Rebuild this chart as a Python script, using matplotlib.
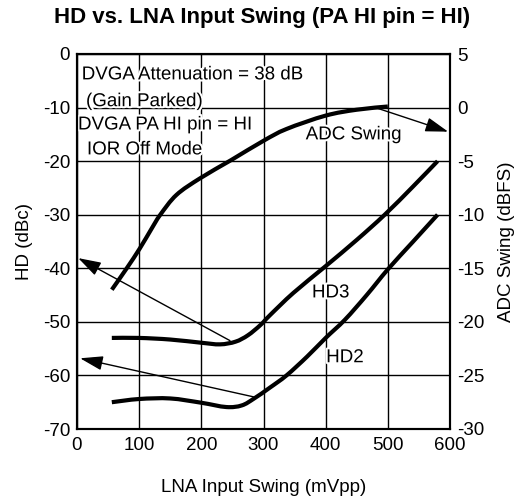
import matplotlib
matplotlib.use("Agg")
import matplotlib.pyplot as plt
import matplotlib.patheffects as pe
from matplotlib.path import Path
from matplotlib.patches import PathPatch

plt.rcParams['font.family'] = ['Liberation Sans', 'DejaVu Sans']

# ---- data ----
x_adc = [56, 80, 101, 120, 134, 160, 198, 248, 300, 337, 400, 450, 500]
adc_swing = [-17.0, -15.0, -13.15, -11.3, -10.0, -8.15, -6.6, -4.9, -3.1, -2.0, -0.75, -0.2, 0.1]

x_hd3 = [56, 100, 150, 200, 230, 255, 275, 295, 310, 348, 400, 450, 495, 540, 580]
hd3 = [-53.0, -53.0, -53.3, -53.9, -54.2, -53.7, -52.5, -50.6, -48.8, -44.6, -39.6, -34.7, -30.0, -24.8, -20.0]

x_hd2 = [56, 100, 150, 200, 240, 265, 285, 310, 337, 370, 400, 431, 466, 500, 540, 580]
hd2 = [-65.0, -64.4, -64.3, -65.1, -65.9, -65.6, -64.3, -62.3, -60.0, -56.5, -53.0, -49.6, -45.0, -40.2, -35.1, -30.0]

x_ticks = [0, 100, 200, 300, 400, 500, 600]
left_ticks = [0, -10, -20, -30, -40, -50, -60, -70]
right_ticks = [5, 0, -5, -10, -15, -20, -25, -30]

title = "HD vs. LNA Input Swing (PA HI pin = HI)"
notes = ["DVGA Attenuation = 38 dB", "(Gain Parked)", "DVGA PA HI pin = HI", "IOR Off Mode"]


def smooth_path(xs, ys):
    """Cubic Bezier path through the given points (Catmull-Rom tangents)."""
    pts = list(zip(xs, ys))
    verts = [pts[0]]
    codes = [Path.MOVETO]
    n = len(pts)
    for i in range(n - 1):
        p0 = pts[i - 1] if i > 0 else pts[i]
        p1 = pts[i]
        p2 = pts[i + 1]
        p3 = pts[i + 2] if i + 2 < n else pts[i + 1]
        c1 = (p1[0] + (p2[0] - p0[0]) / 6.0, p1[1] + (p2[1] - p0[1]) / 6.0)
        c2 = (p2[0] - (p3[0] - p1[0]) / 6.0, p2[1] - (p3[1] - p1[1]) / 6.0)
        verts += [c1, c2, p2]
        codes += [Path.CURVE4] * 3
    return Path(verts, codes)


# ---- figure ----
fig = plt.figure(figsize=(5.24, 5.04), dpi=100)
ax = fig.add_axes([77/524, 1-429/504, 373/524, 375/504])
ax2 = ax.twinx()

fs = 13.5
ax.set_xlim(0, 600)
ax.set_ylim(-70, 0)
ax2.set_ylim(-30, 5)
ax.set_xticks(x_ticks)
ax.set_yticks(left_ticks)
ax2.set_yticks(right_ticks)
ax.set_xticklabels([str(v) for v in x_ticks], fontsize=fs)
ax.set_yticklabels([str(v) for v in left_ticks], fontsize=fs)
ax2.set_yticklabels([str(v) for v in right_ticks], fontsize=fs)
ax.tick_params(axis='x', length=0, pad=6)
ax.tick_params(axis='y', length=0, pad=5)
ax2.tick_params(axis='y', length=0, pad=5)
ax.grid(True, color='black', linewidth=1.0)
ax.set_axisbelow(True)
for a in (ax, ax2):
    for s in a.spines.values():
        s.set_linewidth(1.5)
        s.set_color('black')

ax.set_xlabel("LNA Input Swing (mVpp)", fontsize=fs, labelpad=18)
ax.set_ylabel("HD (dBc)", fontsize=fs, labelpad=7)
ax2.set_ylabel("ADC Swing (dBFS)", fontsize=fs, labelpad=10)
fig.text(0.5, 1-18/504, title, ha='center', va='center', fontsize=16, fontweight='bold')

lw = 3.0
for a, xs, ys in ((ax, x_hd3, hd3), (ax, x_hd2, hd2), (ax2, x_adc, adc_swing)):
    a.add_patch(PathPatch(smooth_path(xs, ys), facecolor='none', edgecolor='black',
                          linewidth=lw, capstyle='butt', zorder=3))

stroke = [pe.withStroke(linewidth=3, foreground='white')]
note_pos = [(7.6, -3.9), (14.5, -8.9), (1.6, -13.25), (16, -17.9)]
for t, (xx, yy) in zip(notes, note_pos):
    ax.text(xx, yy, t, fontsize=fs, ha='left', va='center', path_effects=stroke, zorder=2)
ax.text(445, -15.1, "ADC Swing", fontsize=fs, ha='center', va='center', path_effects=stroke, zorder=2)
ax.text(408, -44.6, "HD3", fontsize=fs, ha='center', va='center', path_effects=stroke, zorder=2)
ax.text(431, -56.7, "HD2", fontsize=fs, ha='center', va='center', path_effects=stroke, zorder=2)

aprops = dict(arrowstyle='-|>,head_length=0.7,head_width=0.22', color='black', lw=1.0,
              mutation_scale=20, shrinkA=0, shrinkB=0)
ax.annotate("", xy=(2, -38.1), xytext=(246, -53.5), arrowprops=aprops, zorder=4)
ax.annotate("", xy=(5, -56.8), xytext=(284, -64.0), arrowprops=aprops, zorder=4)
ax2.annotate("", xy=(597, -2.25), xytext=(480, 0.0), arrowprops=aprops, zorder=4)

fig.savefig("out.png", dpi=100)
